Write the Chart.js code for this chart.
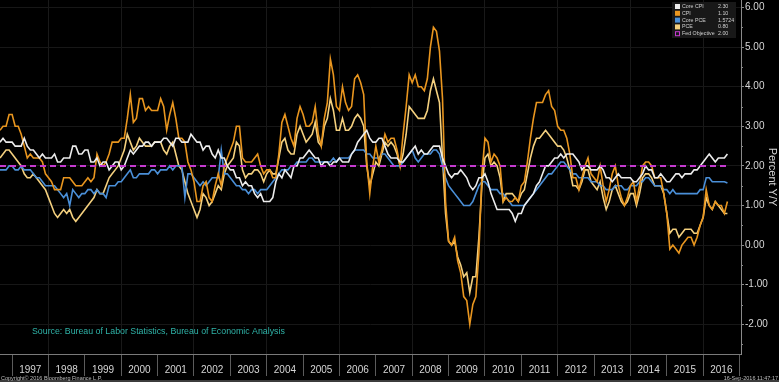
<!DOCTYPE html>
<html lang="en">
<head>
<meta charset="utf-8" />
<title>US Inflation - Percent Y/Y</title>
<script src="https://cdn.jsdelivr.net/npm/chart.js"></script>
<style>
  html, body { margin: 0; padding: 0; background: #000; }
  #wrap { width: 779px; height: 382px; }
</style>
</head>
<body>
<div id="wrap"><canvas id="inflationChart" width="779" height="382"></canvas></div>
<script>
// monthly Y/Y % readings, Aug 1996 .. Aug 2016 (points sit at month end)
const startYear = 1996;
const startMonth = 8;

const coreCpi = [
  2.6, 2.7, 2.6, 2.6, 2.6,
  2.5, 2.5, 2.5, 2.7, 2.5, 2.4, 2.4, 2.3, 2.2, 2.3, 2.2, 2.2,
  2.2, 2.3, 2.1, 2.1, 2.2, 2.2, 2.2, 2.5, 2.5, 2.3, 2.3, 2.4,
  2.4, 2.1, 2.1, 2.2, 2.0, 2.1, 2.1, 1.9, 2.0, 2.1, 2.1, 1.9,
  2.0, 2.2, 2.4, 2.3, 2.4, 2.5, 2.5, 2.6, 2.6, 2.5, 2.6, 2.6,
  2.6, 2.7, 2.7, 2.6, 2.5, 2.7, 2.7, 2.6, 2.6, 2.6, 2.8, 2.7,
  2.6, 2.6, 2.4, 2.5, 2.5, 2.3, 2.2, 2.4, 2.2, 2.2, 2.0, 1.9,
  1.9, 1.7, 1.7, 1.5, 1.6, 1.5, 1.5, 1.3, 1.2, 1.3, 1.1, 1.1,
  1.1, 1.2, 1.6, 1.8, 1.7, 1.9, 1.8, 1.7, 2.0, 2.0, 2.2, 2.2,
  2.3, 2.4, 2.3, 2.2, 2.2, 2.0, 2.1, 2.1, 2.0, 2.1, 2.1, 2.2,
  2.1, 2.1, 2.1, 2.3, 2.4, 2.6, 2.7, 2.8, 2.9, 2.7, 2.6, 2.6,
  2.7, 2.7, 2.5, 2.3, 2.2, 2.2, 2.2, 2.1, 2.1, 2.2, 2.3, 2.4,
  2.5, 2.3, 2.4, 2.3, 2.3, 2.4, 2.5, 2.5, 2.5, 2.2, 2.0, 1.8,
  1.7, 1.8, 1.8, 1.9, 1.8, 1.7, 1.5, 1.4, 1.5, 1.7, 1.7, 1.8,
  1.6, 1.3, 1.1, 0.9, 0.9, 0.9, 0.9, 0.9, 0.8, 0.6, 0.8, 0.8,
  1.0, 1.1, 1.2, 1.3, 1.5, 1.6, 1.8, 2.0, 2.0, 2.1, 2.2, 2.2,
  2.3, 2.2, 2.3, 2.3, 2.3, 2.2, 2.1, 1.9, 2.0, 2.0, 1.9, 1.9,
  1.9, 2.0, 1.9, 1.7, 1.7, 1.6, 1.7, 1.8, 1.7, 1.7, 1.7, 1.7,
  1.6, 1.6, 1.7, 1.8, 2.0, 1.9, 1.9, 1.7, 1.7, 1.8, 1.7, 1.6,
  1.6, 1.7, 1.8, 1.8, 1.7, 1.8, 1.8, 1.8, 1.9, 1.9, 2.0, 2.1,
  2.2, 2.3, 2.2, 2.1, 2.2, 2.2, 2.2, 2.3
];

const cpi = [
  2.9, 3.0, 3.0, 3.3, 3.3,
  3.0, 3.0, 2.8, 2.5, 2.2, 2.3, 2.2, 2.2, 2.2, 2.1, 1.8, 1.7,
  1.6, 1.4, 1.4, 1.4, 1.7, 1.7, 1.7, 1.6, 1.5, 1.5, 1.5, 1.6,
  1.7, 1.6, 1.7, 2.3, 2.1, 2.0, 2.1, 2.3, 2.6, 2.6, 2.6, 2.7,
  2.7, 3.2, 3.8, 3.1, 3.2, 3.7, 3.7, 3.4, 3.5, 3.4, 3.4, 3.4,
  3.7, 3.5, 2.9, 3.3, 3.6, 3.2, 2.7, 2.7, 2.6, 2.1, 1.9, 1.6,
  1.1, 1.1, 1.5, 1.6, 1.2, 1.1, 1.5, 1.8, 1.5, 2.0, 2.2, 2.4,
  2.6, 3.0, 3.0, 2.2, 2.1, 2.1, 2.1, 2.2, 2.3, 2.0, 1.8, 1.9,
  1.9, 1.7, 1.7, 2.3, 3.1, 3.3, 3.0, 2.7, 2.5, 3.2, 3.5, 3.3,
  3.0, 3.0, 3.1, 3.5, 2.8, 2.5, 3.2, 3.6, 4.7, 4.3, 3.5, 3.4,
  4.0, 3.6, 3.4, 3.5, 4.2, 4.3, 4.1, 3.8, 2.1, 1.3, 2.0, 2.5,
  2.1, 2.4, 2.8, 2.6, 2.7, 2.7, 2.4, 2.0, 2.8, 3.5, 4.3, 4.1,
  4.3, 4.0, 4.0, 3.9, 4.2, 5.0, 5.5, 5.4, 4.9, 3.7, 1.1, 0.1,
  0.0, 0.2, -0.4, -0.7, -1.3, -1.4, -2.0, -1.5, -1.3, -0.2, 1.8, 2.7,
  2.6, 2.1, 2.3, 2.2, 2.0, 1.1, 1.2, 1.1, 1.1, 1.2, 1.1, 1.5,
  1.6, 2.1, 2.7, 3.2, 3.6, 3.6, 3.6, 3.8, 3.9, 3.5, 3.4, 3.0,
  2.9, 2.9, 2.7, 2.3, 1.7, 1.7, 1.4, 1.7, 2.0, 2.2, 1.8, 1.7,
  1.6, 2.0, 1.5, 1.1, 1.4, 1.8, 2.0, 1.5, 1.2, 1.0, 1.2, 1.5,
  1.6, 1.1, 1.5, 2.0, 2.1, 2.1, 2.0, 1.7, 1.7, 1.7, 1.3, 0.8,
  -0.1, 0.0, -0.1, -0.2, 0.0, 0.1, 0.2, 0.2, 0.0, 0.2, 0.5, 0.7,
  1.4, 1.0, 0.9, 1.1, 1.0, 1.0, 0.8, 1.1
];

const corePce = [
  1.9, 1.9, 1.9, 2.0, 2.0,
  1.9, 1.9, 2.0, 1.9, 1.9, 1.9, 1.8, 1.7, 1.7, 1.6, 1.5, 1.5,
  1.5, 1.5, 1.4, 1.3, 1.2, 1.3, 1.0, 1.4, 1.3, 1.2, 1.3, 1.3,
  1.4, 1.4, 1.3, 1.4, 1.3, 1.3, 1.2, 1.5, 1.5, 1.5, 1.6, 1.6,
  1.7, 1.8, 1.9, 1.7, 1.7, 1.8, 1.8, 1.8, 1.8, 1.9, 1.9, 1.8,
  1.9, 1.9, 1.9, 2.0, 1.9, 2.0, 2.0, 2.0, 1.2, 1.8, 1.8, 1.7,
  1.6, 1.5, 1.6, 1.5, 1.6, 1.7, 1.7, 1.7, 2.4, 1.8, 1.8, 1.7,
  1.6, 1.5, 1.5, 1.4, 1.4, 1.3, 1.4, 1.4, 1.3, 1.4, 1.4, 1.4,
  1.5, 1.6, 1.7, 1.8, 1.9, 1.9, 1.9, 2.0, 2.0, 2.1, 2.1, 2.1,
  2.1, 2.2, 2.2, 2.1, 2.1, 2.1, 2.1, 2.1, 2.1, 2.2, 2.1, 2.2,
  2.2, 2.2, 2.2, 2.3, 2.4, 2.4, 2.4, 2.4, 2.3, 2.3, 2.2, 2.2,
  2.2, 2.3, 2.3, 2.2, 2.1, 2.0, 2.0, 2.0, 2.1, 2.2, 2.3, 2.4,
  2.2, 2.1, 2.2, 2.3, 2.3, 2.3, 2.4, 2.4, 2.3, 2.0, 1.7, 1.5,
  1.4, 1.3, 1.2, 1.1, 1.0, 1.0, 1.0, 1.1, 1.3, 1.5, 1.6, 1.6,
  1.5, 1.4, 1.4, 1.4, 1.3, 1.3, 1.2, 1.1, 1.0, 1.0, 1.0, 1.0,
  1.0, 1.1, 1.2, 1.3, 1.4, 1.5, 1.6, 1.7, 1.8, 1.8, 1.9, 2.0,
  2.1, 2.1, 2.0, 1.9, 1.8, 1.8, 1.7, 1.7, 1.7, 1.7, 1.6, 1.6,
  1.6, 1.5, 1.5, 1.4, 1.4, 1.4, 1.5, 1.5, 1.5, 1.4, 1.4, 1.5,
  1.5, 1.5, 1.6, 1.6, 1.7, 1.7, 1.6, 1.5, 1.5, 1.5, 1.4, 1.4,
  1.3, 1.4, 1.3, 1.3, 1.3, 1.3, 1.3, 1.3, 1.3, 1.3, 1.4, 1.4,
  1.7, 1.7, 1.6, 1.6, 1.6, 1.6, 1.6, 1.57
];

const pce = [
  2.2, 2.3, 2.4, 2.4, 2.3,
  2.2, 2.1, 2.0, 1.8, 1.7, 1.7, 1.8, 1.7, 1.6, 1.5, 1.4, 1.2,
  1.0, 0.8, 0.7, 0.8, 0.9, 0.8, 0.9, 0.7, 0.6, 0.7, 0.8, 0.9,
  1.0, 1.1, 1.2, 1.4, 1.3, 1.3, 1.5, 1.7, 1.8, 1.9, 2.0, 2.2,
  2.4, 2.8, 2.6, 2.4, 2.5, 2.7, 2.6, 2.5, 2.5, 2.5, 2.6, 2.6,
  2.6, 2.4, 2.3, 2.5, 2.6, 2.3, 2.0, 1.9, 1.6, 1.3, 1.1, 0.9,
  0.7, 0.9, 1.3, 1.2, 1.0, 1.1, 1.3, 1.5, 1.4, 1.8, 2.0, 2.1,
  2.2, 2.6, 2.5, 1.9, 1.7, 1.8, 1.8, 1.9, 1.9, 1.8, 1.6, 1.8,
  1.9, 1.8, 1.8, 2.2, 2.6, 2.7, 2.4, 2.3, 2.3, 2.8, 3.0, 2.8,
  2.6, 2.7, 2.8, 3.1, 2.6, 2.5, 3.0, 3.2, 3.7, 3.4, 2.9, 2.9,
  3.2, 2.9, 2.9, 3.0, 3.2, 3.3, 3.2, 3.0, 2.0, 1.5, 1.8, 2.1,
  2.0, 2.3, 2.6, 2.5, 2.6, 2.5, 2.3, 2.0, 2.3, 2.8, 3.5, 3.4,
  3.3, 3.2, 3.2, 3.2, 3.4, 3.9, 4.2, 3.9, 3.6, 2.2, 0.8, 0.1,
  0.0, 0.1, -0.3, -0.5, -0.8, -0.7, -1.2, -0.8, -0.8, 0.2, 1.5, 2.2,
  2.3, 2.0, 2.1, 2.0, 1.7, 1.1, 1.3, 1.3, 1.3, 1.2, 1.1, 1.3,
  1.4, 1.8, 2.2, 2.5, 2.7, 2.7, 2.8, 2.9, 2.8, 2.7, 2.6, 2.5,
  2.5, 2.4, 2.2, 1.9, 1.5, 1.5, 1.4, 1.6, 1.9, 1.9, 1.6, 1.5,
  1.4, 1.6, 1.2, 0.9, 1.1, 1.4, 1.5, 1.3, 1.1, 1.0, 1.1, 1.3,
  1.3, 1.0, 1.3, 1.7, 1.8, 1.8, 1.7, 1.5, 1.5, 1.5, 1.3, 0.8,
  0.3, 0.4, 0.4, 0.2, 0.3, 0.4, 0.4, 0.4, 0.3, 0.3, 0.5, 0.7,
  1.2, 1.0, 0.9, 1.1, 1.0, 0.9, 0.8, 0.8
];

const fedObjective = 2.0;

const seriesNames = ['Core CPI', 'CPI', 'Core PCE', 'PCE', 'Fed Objective'];
const lastValues = ['2.30', '1.10', '1.5724', '0.80', '2.00'];
const yearLabels = ['1997', '1998', '1999', '2000', '2001', '2002', '2003', '2004', '2005', '2006',
                    '2007', '2008', '2009', '2010', '2011', '2012', '2013', '2014', '2015', '2016'];
const yTicks = [-2, -1, 0, 1, 2, 3, 4, 5, 6];

const sourceText = 'Source: Bureau of Labor Statistics, Bureau of Economic Analysis';
const copyrightText = 'Copyright\u00A9 2016 Bloomberg Finance L.P.';
const stampText = '16-Sep-2016 11:47:17';

const FONT = '"Liberation Sans", Arial, sans-serif';
const xMin = startYear + startMonth / 12;
const xMax = 2017.04;

function toPoints(values) {
    return values.map((v, i) => ({ x: startYear + (startMonth + i) / 12, y: v }));
}

const lastX = startYear + (startMonth + cpi.length - 1) / 12;

function lineSet(label, values, color) {
    return {
        label: label,
        data: toPoints(values),
        borderColor: color,
        backgroundColor: color,
        borderWidth: 1.6,
        pointRadius: 0,
        tension: 0
    };
}

const datasets = [
    lineSet(seriesNames[0], coreCpi, '#ececec'),
    lineSet(seriesNames[1], cpi, '#e9961f'),
    lineSet(seriesNames[2], corePce, '#4a8fd8'),
    lineSet(seriesNames[3], pce, '#f4d07e'),
    {
        label: seriesNames[4],
        data: [{ x: xMin, y: fedObjective }, { x: lastX, y: fedObjective }],
        borderColor: '#c53ad0',
        backgroundColor: '#c53ad0',
        borderWidth: 2,
        borderDash: [6, 4],
        pointRadius: 0,
        order: -1
    }
];

// Bloomberg style extras: background, minor ticks, legend box, footer texts
const decorPlugin = {
    id: 'decor',
    beforeDraw(chart) {
        const ctx = chart.ctx;
        ctx.save();
        ctx.fillStyle = '#000';
        ctx.fillRect(0, 0, chart.width, chart.height);
        ctx.restore();
    },
    afterDraw(chart) {
        const ctx = chart.ctx;
        const yScale = chart.scales.y;
        const right = chart.chartArea.right;
        ctx.save();

        // minor ticks half way between the labelled ones
        ctx.strokeStyle = '#888';
        ctx.lineWidth = 1;
        for (let i = 0; i < yTicks.length; i++) {
            const mid = yTicks[i] - 0.5;
            const py = Math.round(yScale.getPixelForValue(mid)) + 0.5;
            ctx.beginPath();
            ctx.moveTo(right, py);
            ctx.lineTo(right + 2, py);
            ctx.stroke();
        }

        // source note
        ctx.fillStyle = '#2fb3a8';
        ctx.font = '8.8px ' + FONT;
        ctx.textBaseline = 'alphabetic';
        ctx.fillText(sourceText, 32, 334);

        // legend box
        ctx.fillStyle = '#181818';
        ctx.fillRect(672, 2, 64, 36);
        ctx.font = '5.3px ' + FONT;
        ctx.textBaseline = 'middle';
        chart.data.datasets.forEach((ds, i) => {
            const ly = 6.5 + i * 6.8;
            if (i === 4) {
                ctx.strokeStyle = ds.borderColor;
                ctx.strokeRect(675.5, ly - 2, 4, 4);
            } else {
                ctx.fillStyle = ds.borderColor;
                ctx.fillRect(675, ly - 2.5, 5, 5);
            }
            ctx.fillStyle = '#cfcfcf';
            ctx.fillText(seriesNames[i], 682, ly);
            ctx.fillText(lastValues[i], 718, ly);
        });

        // footer
        ctx.fillStyle = '#3c3c3c';
        ctx.fillRect(0, 380, chart.width, 2);
        ctx.fillStyle = '#bdbdbd';
        ctx.font = '5.5px ' + FONT;
        ctx.textBaseline = 'alphabetic';
        ctx.fillText(copyrightText, 1, 380);
        ctx.textAlign = 'right';
        ctx.fillText(stampText, 778, 380);
        ctx.restore();
    }
};

new Chart(document.getElementById('inflationChart'), {
    type: 'line',
    data: { datasets: datasets },
    options: {
        responsive: false,
        animation: false,
        devicePixelRatio: 1,
        layout: { padding: 0 },
        plugins: {
            legend: { display: false },
            tooltip: { enabled: false }
        },
        scales: {
            x: {
                type: 'linear',
                min: xMin,
                max: xMax,
                afterBuildTicks: scale => {
                    scale.ticks = yearLabels.map(y => ({ value: Number(y) + 0.5 }));
                },
                afterFit: scale => {
                    scale.height = 28;
                    scale.paddingLeft = 0;
                    scale.paddingRight = 0;
                },
                ticks: {
                    color: '#d6d6d6',
                    font: { family: FONT, size: 10 },
                    padding: -12,
                    maxRotation: 0,
                    autoSkip: false,
                    callback: (value, index) => yearLabels[index]
                },
                grid: {
                    offset: true,
                    color: c => (1997 + c.index) % 2 === 0 ? '#191919' : 'rgba(0,0,0,0)',
                    tickColor: '#5c5c5c',
                    tickLength: 22,
                    lineWidth: 1
                },
                border: { color: '#7a7a7a', width: 1 }
            },
            y: {
                position: 'right',
                min: -2.75,
                max: 6.19,
                afterBuildTicks: scale => {
                    scale.ticks = yTicks.map(v => ({ value: v }));
                },
                afterFit: scale => {
                    scale.width = 38;
                    scale.paddingTop = 0;
                    scale.paddingBottom = 0;
                },
                ticks: {
                    color: '#d6d6d6',
                    font: { family: FONT, size: 10 },
                    padding: 1,
                    callback: value => value.toFixed(2)
                },
                grid: {
                    color: '#171717',
                    tickColor: '#8a8a8a',
                    tickLength: 3
                },
                border: { color: '#8a8a8a', width: 1 },
                title: {
                    display: true,
                    text: 'Percent Y/Y',
                    color: '#d6d6d6',
                    font: { family: FONT, size: 11 },
                    padding: { top: 0, bottom: 0 }
                }
            }
        }
    },
    plugins: [decorPlugin]
});
</script>
</body>
</html>
